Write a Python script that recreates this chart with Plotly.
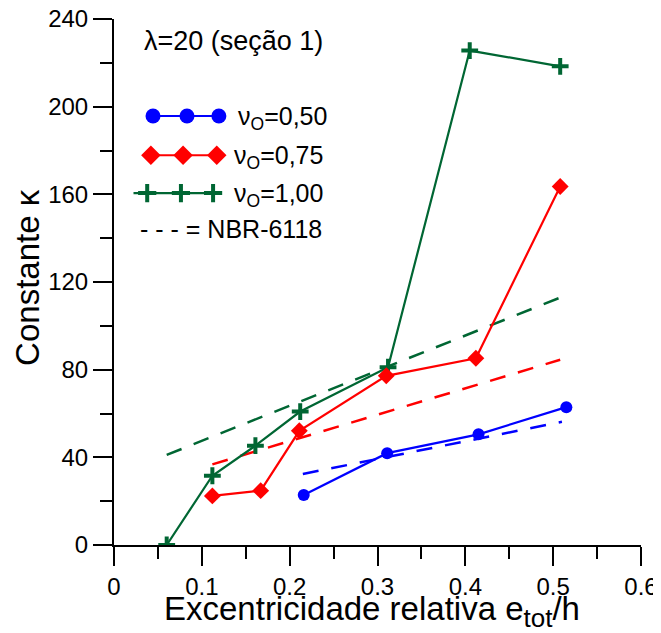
import plotly.graph_objects as go

# ---- data ----
x_050 = [0.216, 0.311, 0.415, 0.515]
k_050 = [22.8, 41.9, 50.5, 62.9]
x_075 = [0.112, 0.167, 0.211, 0.310, 0.412, 0.508]
k_075 = [22.4, 24.8, 52.1, 77.2, 85.2, 163.6]
x_100 = [0.060, 0.112, 0.161, 0.212, 0.312, 0.405, 0.508]
k_100 = [0.0, 31.6, 45.3, 60.9, 81.1, 225.6, 218.4]
# NBR-6118 straight lines (start, end)
nbr_x_050 = [0.215, 0.510]
nbr_k_050 = [32.4, 56.2]
nbr_x_075 = [0.112, 0.508]
nbr_k_075 = [36.8, 84.5]
nbr_x_100 = [0.060, 0.508]
nbr_k_100 = [41.1, 112.9]
x_ticks = [0, 0.1, 0.2, 0.3, 0.4, 0.5, 0.6]
x_tick_labels = ["0", "0.1", "0.2", "0.3", "0.4", "0.5", "0.6"]
y_ticks = [0, 40, 80, 120, 160, 200, 240]

BLUE = "#0000FF"
RED = "#FF0000"
GREEN = "#006633"
FONT = "Arial, Liberation Sans, sans-serif"

fig = go.Figure()

dash = "16px,13px"
for xs, ks, c in [(nbr_x_100, nbr_k_100, GREEN), (nbr_x_075, nbr_k_075, RED), (nbr_x_050, nbr_k_050, BLUE)]:
    fig.add_trace(go.Scatter(x=xs, y=ks, mode="lines", line=dict(color=c, width=2.5, dash=dash),
                             showlegend=False, hoverinfo="skip"))

fig.add_trace(go.Scatter(x=x_100, y=k_100, mode="lines+markers", line=dict(color=GREEN, width=2.2),
                         marker=dict(symbol="cross-thin", size=12, line=dict(color=GREEN, width=4)),
                         showlegend=False))
fig.add_trace(go.Scatter(x=x_075, y=k_075, mode="lines+markers", line=dict(color=RED, width=2.2),
                         marker=dict(symbol="diamond", size=13, color=RED), showlegend=False))
fig.add_trace(go.Scatter(x=x_050, y=k_050, mode="lines+markers", line=dict(color=BLUE, width=2.2),
                         marker=dict(symbol="circle", size=12, color=BLUE), showlegend=False))

# ---- custom legend drawn on an overlay axis in paper-like units ----
leg = [
    ([0.074, 0.1385, 0.199], 0.8156, BLUE, "circle", 0),
    ([0.070, 0.131, 0.195], 0.741, RED, "diamond", 0),
    ([0.063, 0.127, 0.188], 0.669, GREEN, "cross-thin", 4),
]
for xs, yy, c, sym, lw in leg:
    ext_l = 0.026 if sym == "cross-thin" else 0
    ext_r = 0.013 if sym == "cross-thin" else 0
    fig.add_trace(go.Scatter(x=[xs[0] - ext_l, xs[1], xs[2] + ext_r],
                             y=[yy] * 3, mode="lines", line=dict(color=c, width=2.2),
                             xaxis="x2", yaxis="y2", showlegend=False, hoverinfo="skip"))
    fig.add_trace(go.Scatter(x=xs, y=[yy] * 3, mode="markers",
                             marker=dict(symbol=sym, size=15 if sym != "cross-thin" else 13, color=c,
                                         line=dict(color=c, width=lw)),
                             xaxis="x2", yaxis="y2", showlegend=False, hoverinfo="skip"))

annots = [
    dict(text="λ=20 (seção 1)", x=0.054, y=0.958, size=27),
    dict(text="ν<sub>O</sub>=0,50", x=0.232, y=0.812, size=25),
    dict(text="ν<sub>O</sub>=0,75", x=0.224, y=0.738, size=25),
    dict(text="ν<sub>O</sub>=1,00", x=0.224, y=0.666, size=25),
    dict(text="- - - = NBR-6118", x=0.046, y=0.600, size=25),
]
for a in annots:
    fig.add_annotation(text=a["text"], x=a["x"], y=a["y"], xref="paper", yref="paper",
                       xanchor="left", yanchor="middle", showarrow=False,
                       font=dict(family=FONT, size=a["size"], color="black"))

# axis titles
fig.add_annotation(text="Excentricidade relativa e<sub><span style='font-size:26px'>tot</span></sub>/h",
                   x=0.49, y=-0.126,
                   xref="paper", yref="paper", xanchor="center", yanchor="middle", showarrow=False,
                   font=dict(family=FONT, size=33, color="black"))
fig.add_annotation(text="Constante κ", x=-0.163, y=0.508, textangle=-90,
                   xref="paper", yref="paper", xanchor="center", yanchor="middle", showarrow=False,
                   font=dict(family=FONT, size=33, color="black"))

axis_common = dict(showline=True, linecolor="black", linewidth=2, showgrid=False, zeroline=False,
                   ticks="outside", ticklen=19, tickwidth=2, tickcolor="black", automargin=False,
                   ticklabeloverflow="allow",
                   tickfont=dict(family=FONT, size=24, color="black"))

fig.update_layout(
    width=653, height=625,
    margin=dict(l=106, r=20, t=11, b=88, autoexpand=False),
    paper_bgcolor="white", plot_bgcolor="white",
    font=dict(family=FONT, color="black"),
    xaxis=dict(range=[0, 0.6], tickvals=x_ticks, ticktext=x_tick_labels,
               minor=dict(dtick=0.05, ticks="outside", ticklen=12, tickwidth=2, tickcolor="black"),
               **axis_common),
    yaxis=dict(range=[0, 240], tickvals=y_ticks,
               minor=dict(dtick=20, ticks="outside", ticklen=12, tickwidth=2, tickcolor="black"),
               **axis_common),
    xaxis2=dict(range=[0, 1], overlaying="x", visible=False, fixedrange=True),
    yaxis2=dict(range=[0, 1], overlaying="y", visible=False, fixedrange=True),
)

fig.write_html("out.html")
